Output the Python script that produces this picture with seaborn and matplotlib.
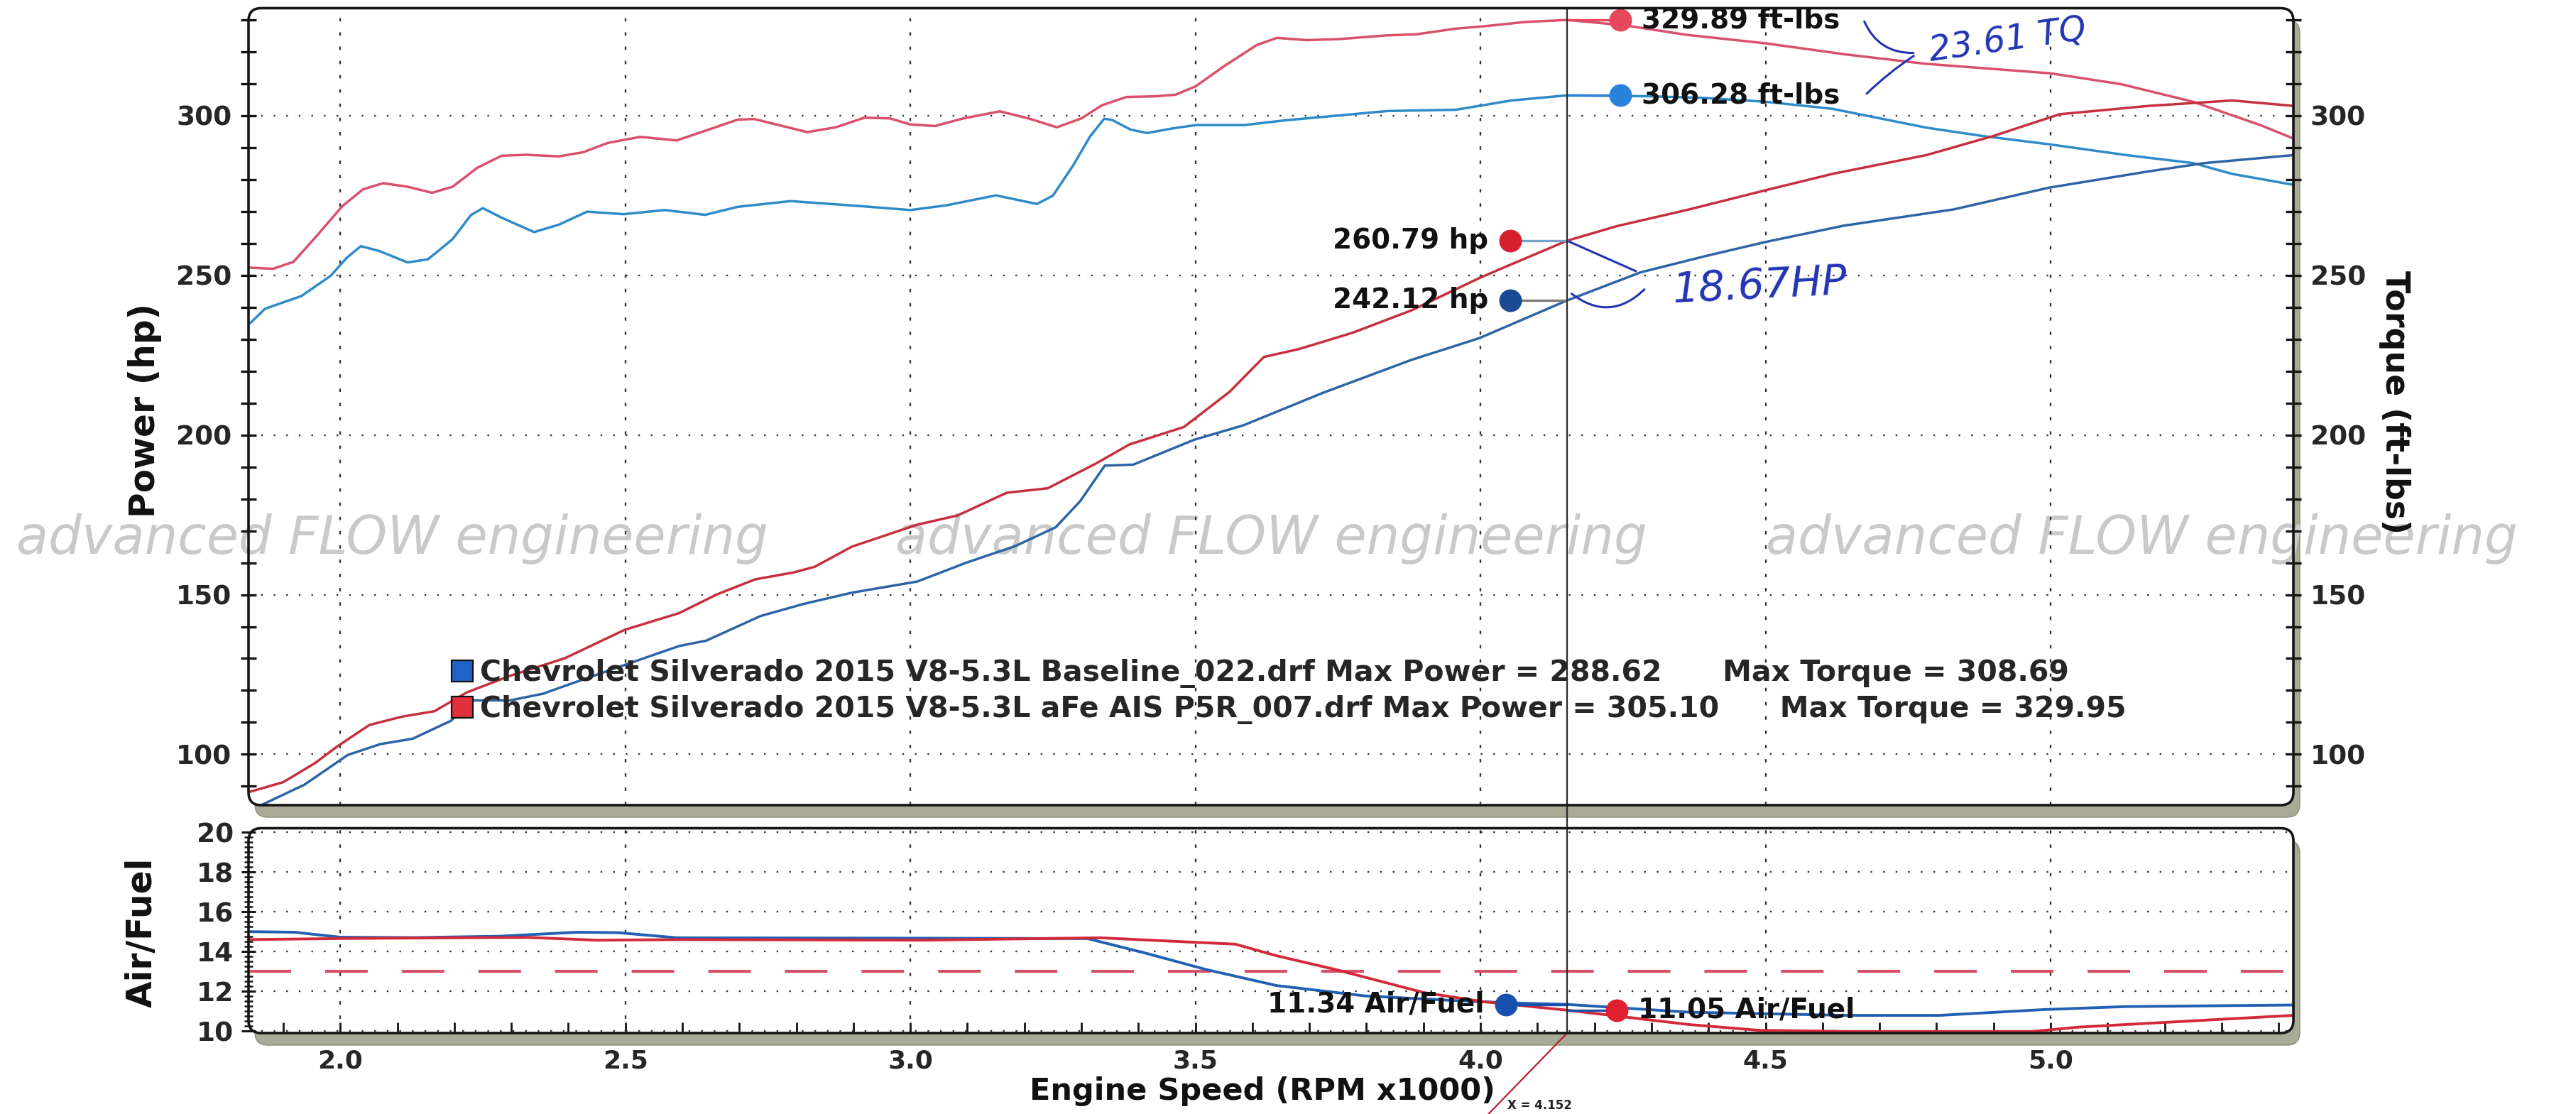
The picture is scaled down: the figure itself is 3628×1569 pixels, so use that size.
import numpy as np
import pandas as pd
import matplotlib
matplotlib.use("Agg")
import matplotlib.pyplot as plt
import matplotlib.transforms as mtransforms
from matplotlib.patches import FancyBboxPatch
from matplotlib.lines import Line2D
from matplotlib.ticker import MultipleLocator, FormatStrFormatter
import seaborn as sns

# ---------------- data read from the dyno sheet ----------------
rpm_tq_afe = [1.839, 1.882, 1.918, 1.961, 2.004, 2.040, 2.075, 2.118, 2.161, 2.197,
              2.240, 2.283, 2.326, 2.383, 2.426, 2.469, 2.526, 2.590, 2.640, 2.697,
              2.726, 2.769, 2.819, 2.869, 2.919, 2.964, 3.000, 3.043, 3.093, 3.157,
              3.207, 3.257, 3.300, 3.336, 3.379, 3.429, 3.465, 3.500, 3.550, 3.608,
              3.643, 3.694, 3.751, 3.837, 3.887, 3.957, 4.010, 4.080, 4.152, 4.250,
              4.364, 4.500, 4.637, 4.780, 5.000, 5.124, 5.250, 5.368, 5.426]
tq_afe = [252.4, 252.0, 254.2, 262.8, 271.7, 276.9, 278.8, 277.7, 275.8, 277.7,
          283.6, 287.4, 287.7, 287.2, 288.5, 291.4, 293.3, 292.2, 295.2, 298.7,
          298.9, 297.0, 294.8, 296.3, 299.3, 299.1, 297.2, 296.7, 299.1, 301.3,
          299.1, 296.3, 299.1, 303.2, 305.8, 306.0, 306.5, 309.1, 315.4, 322.1,
          324.3, 323.6, 323.9, 325.1, 325.4, 327.2, 328.0, 329.3, 329.9, 328.3,
          325.2, 322.6, 319.2, 316.2, 313.2, 309.8, 304.3, 297.0, 292.8]

rpm_tq_base = [1.842, 1.868, 1.900, 1.932, 1.983, 2.011, 2.036, 2.068, 2.118, 2.154,
               2.197, 2.229, 2.250, 2.283, 2.340, 2.383, 2.433, 2.497, 2.569, 2.640,
               2.697, 2.790, 2.876, 2.922, 3.000, 3.064, 3.150, 3.222, 3.250, 3.286,
               3.315, 3.340, 3.354, 3.386, 3.415, 3.458, 3.500, 3.586, 3.658, 3.751,
               3.837, 3.957, 4.054, 4.152, 4.300, 4.392, 4.500, 4.617, 4.782, 4.880,
               4.997, 5.133, 5.250, 5.319, 5.426]
tq_base = [235.0, 239.5, 241.5, 243.5, 249.8, 255.4, 259.1, 257.6, 254.0, 255.0,
           261.3, 268.8, 271.0, 268.0, 263.5, 265.8, 269.9, 269.1, 270.4, 268.9,
           271.4, 273.2, 272.1, 271.5, 270.4, 271.9, 275.0, 272.3, 274.9, 284.5,
           293.4, 299.0, 298.6, 295.6, 294.5, 295.9, 297.0, 297.0, 298.5, 300.0,
           301.4, 301.8, 304.7, 306.3, 306.0, 305.5, 304.3, 302.1, 296.2, 293.6,
           291.0, 287.6, 285.1, 281.7, 278.3]

rpm_hp_afe = [1.842, 1.900, 1.956, 1.994, 2.051, 2.108, 2.165, 2.222, 2.298, 2.394,
              2.499, 2.594, 2.661, 2.728, 2.794, 2.832, 2.897, 3.012, 3.083, 3.169,
              3.241, 3.326, 3.384, 3.480, 3.560, 3.620, 3.682, 3.776, 3.879, 3.998,
              4.054, 4.152, 4.240, 4.364, 4.500, 4.617, 4.782, 4.900, 5.016, 5.172,
              5.319, 5.426]
hp_afe = [88.3, 91.3, 97.3, 102.4, 109.2, 111.8, 113.5, 119.4, 124.6, 130.1,
          139.0, 144.2, 150.1, 154.8, 156.9, 158.7, 165.0, 171.9, 174.8, 181.9,
          183.3, 191.1, 197.0, 202.5, 213.5, 224.4, 226.9, 232.0, 239.0, 249.1,
          253.4, 260.8, 265.4, 270.5, 276.6, 281.7, 287.6, 293.6, 300.4, 303.0,
          304.7, 303.0]

rpm_hp_base = [1.860, 1.937, 2.013, 2.070, 2.127, 2.194, 2.232, 2.298, 2.356, 2.403,
               2.499, 2.594, 2.642, 2.737, 2.813, 2.897, 3.012, 3.098, 3.184, 3.255,
               3.298, 3.341, 3.391, 3.498, 3.584, 3.724, 3.879, 3.998, 4.152, 4.281,
               4.395, 4.500, 4.637, 4.830, 4.997, 5.172, 5.270, 5.426]
hp_base = [84.0, 90.5, 99.8, 103.2, 104.9, 110.5, 116.9, 116.9, 119.0, 122.0,
           128.0, 133.9, 135.6, 143.3, 147.1, 150.6, 154.1, 160.0, 165.2, 171.1,
           179.3, 190.4, 190.7, 198.5, 203.0, 213.2, 223.5, 230.3, 242.1, 250.9,
           256.0, 260.4, 265.5, 270.6, 277.4, 282.5, 285.1, 287.6]

rpm_afr_base = [1.840, 1.920, 2.000, 2.130, 2.280, 2.415, 2.487, 2.591, 3.020, 3.311,
                3.415, 3.518, 3.642, 3.797, 3.951, 4.050, 4.152, 4.365, 4.641, 4.805,
                4.988, 5.131, 5.426]
afr_base = [15.00, 14.97, 14.72, 14.70, 14.77, 14.97, 14.95, 14.69, 14.67, 14.65,
            13.90, 13.10, 12.29, 11.77, 11.54, 11.42, 11.34, 10.95, 10.79, 10.79,
            11.08, 11.23, 11.31]

rpm_afr_afe = [1.840, 2.020, 2.330, 2.450, 2.600, 3.020, 3.333, 3.487, 3.570, 3.642,
               3.745, 3.900, 4.004, 4.152, 4.262, 4.365, 4.488, 4.641, 4.968, 5.050,
               5.426]
afr_afe = [14.60, 14.66, 14.71, 14.57, 14.60, 14.57, 14.69, 14.48, 14.37, 13.79,
           13.10, 11.94, 11.48, 11.05, 10.68, 10.33, 10.04, 9.98, 9.98, 10.20,
           10.79]

afr_target = 13.0
cursor_rpm = 4.152
tq_readout = [329.89, 306.28]     # aFe, baseline
hp_readout = [260.79, 242.12]     # aFe, baseline
afr_readout = [11.34, 11.05]      # baseline, aFe
hand_notes = ["23.61 TQ", "18.67HP"]
legend_labels = [
    "Chevrolet Silverado 2015 V8-5.3L Baseline_022.drf Max Power = 288.62      Max Torque = 308.69",
    "Chevrolet Silverado 2015 V8-5.3L aFe AIS P5R_007.drf Max Power = 305.10      Max Torque = 329.95",
]
power_ticks = [100, 150, 200, 250, 300]
afr_ticks = [10, 12, 14, 16, 18, 20]

# ---------------- styling ----------------
sns.set_theme(style="white")
plt.rcParams["font.family"] = ["DejaVu Sans"]
plt.rcParams["font.weight"] = "bold"

C_TQ_AFE = "#d8506c"
C_TQ_BASE = "#2f8bc8"
C_HP_AFE = "#c62f3d"
C_HP_BASE = "#2d64a6"
C_AFR_BASE = "#2160b2"
C_AFR_AFE = "#d22a3a"
INK = "#2234b4"

W, H = 3628, 1569
fig = plt.figure(figsize=(W / 100, H / 100), dpi=100)
fig.patch.set_facecolor("white")

top_box = (350, 11.5, 3230, 1134)
bot_box = (350, 1166.5, 3230, 1455)


def rect(b):
    l, t, r, bt = b
    return [l / W, 1 - bt / H, (r - l) / W, (bt - t) / H]


ax1 = fig.add_axes(rect(top_box))
ax2 = fig.add_axes(rect(bot_box), sharex=ax1)
for ax in (ax1, ax2):
    ax.set_facecolor("none")
    for s in ax.spines.values():
        s.set_visible(False)


def frame(b):
    l, t, r, bt = b
    x0, y0 = l / W, 1 - bt / H
    w, h = (r - l) / W, (bt - t) / H
    rr = 18 / W
    kw = dict(boxstyle=f"round,pad=0,rounding_size={rr}", mutation_aspect=W / H,
              transform=fig.transFigure)
    sh = FancyBboxPatch((x0 + 9 / W, y0 - 17 / H), w, h, facecolor="#a9ab97",
                        edgecolor="#8d8f7c", lw=1.0, zorder=-3, **kw)
    bg = FancyBboxPatch((x0, y0), w, h, facecolor="white", edgecolor="none",
                        zorder=-2, **kw)
    bd = FancyBboxPatch((x0, y0), w, h, facecolor="none", edgecolor="#151515",
                        lw=2.6, zorder=4, **kw)
    fig.patches.extend([sh, bg, bd])


frame(top_box)
frame(bot_box)

# watermark (under the curves)
for xw in (23, 1261, 2487):
    fig.text(xw / W, 1 - 759 / H, "advanced FLOW engineering", ha="left", va="center",
             fontsize=53, style="italic", weight="normal", color="#c9c9c9", zorder=-1)

# ---------------- curves ----------------
def line(ax, xs, ys, color, lw=2.5):
    df = pd.DataFrame({"rpm": xs, "val": ys})
    sns.lineplot(data=df, x="rpm", y="val", ax=ax, color=color, lw=lw,
                 estimator=None, sort=False, legend=False,
                 solid_joinstyle="round", solid_capstyle="round")


line(ax1, rpm_tq_afe, tq_afe, C_TQ_AFE)
line(ax1, rpm_tq_base, tq_base, C_TQ_BASE)
line(ax1, rpm_hp_afe, hp_afe, C_HP_AFE)
line(ax1, rpm_hp_base, hp_base, C_HP_BASE)
line(ax2, rpm_afr_base, afr_base, C_AFR_BASE, lw=2.8)
line(ax2, rpm_afr_afe, afr_afe, C_AFR_AFE, lw=2.8)
ax2.axhline(afr_target, color="#d65068", lw=3.0, linestyle=(0, (14.4, 11.5)), zorder=1.5)

# ---------------- axes / ticks / grid ----------------
ax1.set_xlim(1.839, 5.426)
ax1.set_ylim(84.1, 333.6)
ax2.set_ylim(9.9, 20.2)
ax1.xaxis.set_major_locator(MultipleLocator(0.5))
ax1.xaxis.set_minor_locator(MultipleLocator(0.1))
ax1.xaxis.set_major_formatter(FormatStrFormatter("%.1f"))
ax1.set_yticks(power_ticks)
ax1.yaxis.set_minor_locator(MultipleLocator(10))
ax2.set_yticks(afr_ticks)
ax2.yaxis.set_minor_locator(MultipleLocator(0.25))

for ax in (ax1, ax2):
    ax.set_xlabel("")
    ax.set_ylabel("")
    ax.xaxis.grid(True, which="major", color="#333333", linewidth=1.7,
                  linestyle=(0, (2.0, 6.5)))
    ax.yaxis.grid(True, which="major", color="#333333", linewidth=1.7,
                  linestyle=(0, (1.0, 6.5)))

ax1.tick_params(axis="x", which="both", length=0, labelbottom=False)
ax1.tick_params(axis="y", which="both", direction="inout", left=True, right=True,
                labelleft=True, labelright=True, length=16, width=2.4, color="#151515",
                labelsize=27, pad=9)
ax2.tick_params(axis="x", which="both", direction="in", bottom=True, top=False,
                length=11, width=2.0, color="#151515", labelsize=26, pad=16)
ax2.tick_params(axis="y", which="major", direction="inout", left=True, right=False,
                length=14, width=2.2, color="#151515", labelsize=27, pad=8)
ax2.tick_params(axis="y", which="minor", direction="inout", left=True, right=False,
                length=9, width=1.8, color="#151515")

# ---------------- cursor ----------------
blend = mtransforms.blended_transform_factory(ax1.transData, fig.transFigure)
y_top = 1 - top_box[1] / H
y_bot = 1 - bot_box[3] / H
fig.lines.append(Line2D([cursor_rpm, cursor_rpm], [y_bot, y_top], transform=blend,
                        color="#2a2a2a", lw=1.6, zorder=3))
fig.lines.append(Line2D([cursor_rpm, cursor_rpm - 0.138], [y_bot, 0.0], transform=blend,
                        color="#b8202e", lw=1.6, zorder=3))
fig.text(cursor_rpm - 0.105, 3 / H, f"X = {cursor_rpm}", transform=blend,
         ha="left", va="bottom", fontsize=12, color="#222222")

# readouts: (axis, value, dot offset, dot color, connector color, label, side)
readouts = [
    (ax1, tq_readout[0], 0.093, "#e8485c", "#e8485c", f"{tq_readout[0]:.2f} ft-lbs", "r"),
    (ax1, tq_readout[1], 0.093, "#2b82da", "#2b82da", f"{tq_readout[1]:.2f} ft-lbs", "r"),
    (ax1, hp_readout[0], -0.100, "#d81f2f", "#7aa2c8", f"{hp_readout[0]:.2f} hp", "l"),
    (ax1, hp_readout[1], -0.100, "#1b4994", "#7a7a7a", f"{hp_readout[1]:.2f} hp", "l"),
    (ax2, afr_readout[0], -0.107, "#1a4fb0", "#1a4fb0", f"{afr_readout[0]:.2f} Air/Fuel", "l"),
    (ax2, afr_readout[1], 0.087, "#e01f30", "#1a4fb0", f"{afr_readout[1]:.2f} Air/Fuel", "r"),
]
for ax, val, off, dcol, ccol, lab, side in readouts:
    xd = cursor_rpm + off
    ax.plot([cursor_rpm, xd], [val, val], color=ccol, lw=2.4, zorder=5)
    ax.plot([xd], [val], marker="o", ms=22, mfc=dcol, mec=dcol, ls="none", zorder=6,
            clip_on=False)
    if side == "r":
        ax.text(xd + 0.038, val, lab, ha="left", va="center", fontsize=28, zorder=7,
                color="#111111", clip_on=False)
    else:
        ax.text(xd - 0.038, val, lab, ha="right", va="center", fontsize=28, zorder=7,
                color="#111111", clip_on=False)

# ---------------- hand-written notes ----------------
ax1.text(4.925, 323.5, hand_notes[0], ha="center", va="center", fontsize=35,
         style="italic", weight="normal", color=INK, rotation=8, zorder=8)
ax1.annotate("", xy=(4.763, 319.6), xytext=(4.672, 330.0),
             arrowprops=dict(arrowstyle="-", color=INK, lw=2.2,
                             connectionstyle="arc3,rad=0.35"), zorder=8)
ax1.annotate("", xy=(4.675, 306.4), xytext=(4.763, 319.0),
             arrowprops=dict(arrowstyle="-", color=INK, lw=2.2,
                             connectionstyle="arc3,rad=0.05"), zorder=8)
ax1.text(4.49, 246.5, hand_notes[1], ha="center", va="center", fontsize=42,
         style="italic", weight="normal", color=INK, rotation=3, zorder=8)
ax1.annotate("", xy=(4.276, 251.0), xytext=(cursor_rpm, hp_readout[0]),
             arrowprops=dict(arrowstyle="-", color=INK, lw=2.2,
                             connectionstyle="arc3,rad=0.0"), zorder=8)
ax1.annotate("", xy=(4.29, 246.0), xytext=(cursor_rpm + 0.005, hp_readout[1] + 2.5),
             arrowprops=dict(arrowstyle="-", color=INK, lw=2.2,
                             connectionstyle="arc3,rad=0.45"), zorder=8)

# ---------------- legend block ----------------
handles = [Line2D([], [], ls="none", marker="s", ms=21, mfc="#1f63c6", mec="#111111", mew=1.6),
           Line2D([], [], ls="none", marker="s", ms=21, mfc="#e0303c", mec="#111111", mew=1.6)]
ax1.legend(handles, legend_labels, loc="upper left",
           bbox_to_anchor=(636 / W, 1 - 928 / H), bbox_transform=fig.transFigure,
           frameon=False, prop=dict(size=29.5, weight="bold"), handlelength=0.75,
           handletextpad=0.22, labelspacing=0.25, borderpad=0, borderaxespad=0)

# ---------------- axis titles ----------------
fig.text(204 / W, 1 - 578 / H, "Power (hp)", rotation=90, ha="center", va="center",
         fontsize=35, color="#111111")
fig.text(3372 / W, 1 - 567 / H, "Torque (ft-lbs)", rotation=270, ha="center", va="center",
         fontsize=33, color="#111111")
fig.text(200 / W, 1 - 1313 / H, "Air/Fuel", rotation=90, ha="center", va="center",
         fontsize=35, color="#111111")
fig.text(1778 / W, 1 - 1537 / H, "Engine Speed (RPM x1000)", ha="center", va="center",
         fontsize=31, color="#111111")

fig.savefig("out.png", dpi=100, facecolor="white")
